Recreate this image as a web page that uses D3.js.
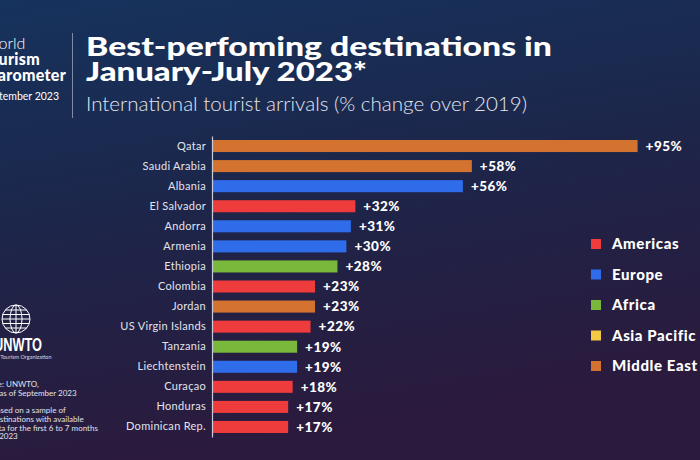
<!DOCTYPE html>
<html>
<head>
<meta charset="utf-8">
<script src="https://cdn.jsdelivr.net/npm/d3@7"></script>
<style>
  html, body { margin: 0; padding: 0; background: #1a2748; }
  svg { display: block; }
</style>
</head>
<body>
<svg id="chart"></svg>
<script>
// Data
const countries = ["Qatar", "Saudi Arabia", "Albania", "El Salvador", "Andorra", "Armenia", "Ethiopia",
  "Colombia", "Jordan", "US Virgin Islands", "Tanzania", "Liechtenstein", "Curaçao", "Honduras", "Dominican Rep."];
const changes = [95, 58, 56, 32, 31, 30, 28, 23, 23, 22, 19, 19, 18, 17, 17];
const regions = ["Middle East", "Middle East", "Europe", "Americas", "Europe", "Europe", "Africa",
  "Americas", "Middle East", "Americas", "Africa", "Europe", "Americas", "Americas", "Americas"];
const regionNames = ["Americas", "Europe", "Africa", "Asia Pacific", "Middle East"];
const regionColors = ["#ee3b3b", "#2f6cea", "#79b83a", "#f6c945", "#d3732f"];

const w = 700;
const h = 460;
const font = "Lato, sans-serif";

const svg = d3.select("#chart").attr("width", w).attr("height", h);

// Background gradient
const defs = svg.append("defs");
const grad = defs.append("linearGradient")
  .attr("id", "bg").attr("x1", 0).attr("y1", 0).attr("x2", 0.25).attr("y2", 1);
grad.append("stop").attr("offset", "0%").attr("stop-color", "#16335d");
grad.append("stop").attr("offset", "50%").attr("stop-color", "#1d2549");
grad.append("stop").attr("offset", "100%").attr("stop-color", "#2b1a3d");
svg.append("rect").attr("width", w).attr("height", h).attr("fill", "url(#bg)");

// Scales
const x = d3.scaleLinear().domain([0, 100]).range([212, 660]);
const y = d3.scaleBand().domain(countries).range([136, 437]).paddingInner(0.4).paddingOuter(0.2);
const color = d3.scaleOrdinal().domain(regionNames).range(regionColors);

const rows = countries.map((c, i) => ({ country: c, value: changes[i], region: regions[i] }));

// Bars
svg.selectAll(".bar")
  .data(rows)
  .enter()
  .append("rect")
  .attr("class", "bar")
  .attr("x", x(0))
  .attr("y", d => y(d.country))
  .attr("width", d => x(d.value) - x(0))
  .attr("height", y.bandwidth())
  .attr("fill", d => color(d.region));

// Country axis
const yAxis = svg.append("g")
  .attr("transform", "translate(" + x(0) + ",0)")
  .call(d3.axisLeft(y).tickSize(0).tickPadding(6));
yAxis.select(".domain").attr("stroke", "#c9ccd8").attr("stroke-width", 1.2);
yAxis.selectAll("text")
  .attr("fill", "#e2e4ec")
  .style("font-family", font)
  .style("font-size", "11px")
  .style("letter-spacing", "0.3px");

// Value labels
svg.selectAll(".val")
  .data(rows)
  .enter()
  .append("text")
  .attr("class", "val")
  .attr("x", d => x(d.value) + 8)
  .attr("y", d => y(d.country) + y.bandwidth() / 2)
  .attr("dy", "0.36em")
  .attr("fill", "#ffffff")
  .style("font-family", font)
  .style("font-weight", "900")
  .style("font-size", "13.5px")
  .style("letter-spacing", "0.5px")
  .text(d => "+" + d.value + "%");

// Legend
const legend = svg.selectAll(".legend")
  .data(regionNames)
  .enter()
  .append("g")
  .attr("class", "legend")
  .attr("transform", (d, i) => "translate(591," + (244 + i * 30.5) + ")");
legend.append("rect")
  .attr("x", 0).attr("y", -5).attr("width", 10).attr("height", 10)
  .attr("fill", d => color(d));
legend.append("text")
  .attr("x", 21).attr("dy", "0.36em")
  .attr("fill", "#ffffff")
  .style("font-family", font)
  .style("font-weight", "900")
  .style("font-size", "15px")
  .style("letter-spacing", "0.6px")
  .text(d => d);

// Header (left block is clipped at the edge, as in the original)
svg.append("text").attr("x", -17).attr("y", 49).attr("fill", "#fff")
  .style("font-family", font).style("font-size", "16px").style("font-weight", "300").text("World");
svg.append("text").attr("x", -19).attr("y", 65).attr("fill", "#fff")
  .style("font-family", font).style("font-size", "16px").style("font-weight", "900")
  .style("letter-spacing", "0.3px").text("Tourism");
svg.append("text").attr("x", -13).attr("y", 81).attr("fill", "#fff")
  .style("font-family", font).style("font-size", "16px").style("font-weight", "900")
  .style("letter-spacing", "0.3px").text("Barometer");
svg.append("text").attr("x", -18).attr("y", 100).attr("fill", "#fff")
  .style("font-family", font).style("font-size", "10.5px").style("font-weight", "400").text("September 2023");

svg.append("line").attr("x1", 72.5).attr("x2", 72.5).attr("y1", 33).attr("y2", 118)
  .attr("stroke", "#7f8aa5").attr("stroke-width", 1);

svg.append("text").attr("x", 86).attr("y", 56).attr("fill", "#fff")
  .attr("textLength", 466).attr("lengthAdjust", "spacingAndGlyphs")
  .style("font-family", font).style("font-size", "27px").style("font-weight", "900")
  .text("Best-perfoming destinations in");
svg.append("text").attr("x", 86).attr("y", 81).attr("fill", "#fff")
  .attr("textLength", 281).attr("lengthAdjust", "spacingAndGlyphs")
  .style("font-family", font).style("font-size", "27px").style("font-weight", "900")
  .text("January-July 2023*");
svg.append("text").attr("x", 86).attr("y", 111).attr("fill", "#e4e6ee")
  .attr("textLength", 441).attr("lengthAdjust", "spacingAndGlyphs")
  .style("font-family", font).style("font-size", "19px").style("font-weight", "300")
  .text("International tourist arrivals (% change over 2019)");

// UNWTO logo (globe)
const globe = svg.append("g").attr("transform", "translate(16,319)")
  .attr("fill", "none").attr("stroke", "#fff").attr("stroke-width", 1);
globe.append("circle").attr("r", 14);
globe.append("ellipse").attr("rx", 6).attr("ry", 14);
globe.append("line").attr("x1", 0).attr("x2", 0).attr("y1", -14).attr("y2", 14);
[-9, -4.5, 0, 4.5, 9].forEach(v => {
  const half = Math.sqrt(14 * 14 - v * v);
  globe.append("line").attr("x1", -half).attr("x2", half).attr("y1", v).attr("y2", v);
});
svg.append("text").attr("x", -6).attr("y", 351).attr("fill", "#fff")
  .attr("textLength", 48).attr("lengthAdjust", "spacingAndGlyphs")
  .style("font-family", "Liberation Sans, Arial, sans-serif").style("font-size", "19px")
  .style("font-weight", "700").text("UNWTO");
svg.append("text").attr("x", -16).attr("y", 359).attr("fill", "#d8dae3")
  .style("font-family", font).style("font-size", "5.5px").text("World Tourism Organization");

// Notes
const notes = ["Source: UNWTO,", "data as of September 2023",
  "* Based on a sample of", "destinations with available",
  "data for the first 6 to 7 months", "of 2023"];
const noteY = [387, 396, 413, 422, 430.5, 439];
const noteX = [-22, -18, -14, -9, -10, -10];
svg.selectAll(".note")
  .data(notes)
  .enter()
  .append("text")
  .attr("class", "note")
  .attr("x", (d, i) => noteX[i])
  .attr("y", (d, i) => noteY[i])
  .attr("fill", "#e0e2ea")
  .style("font-family", font)
  .style("font-size", "8px")
  .text(d => d);
</script>
</body>
</html>
